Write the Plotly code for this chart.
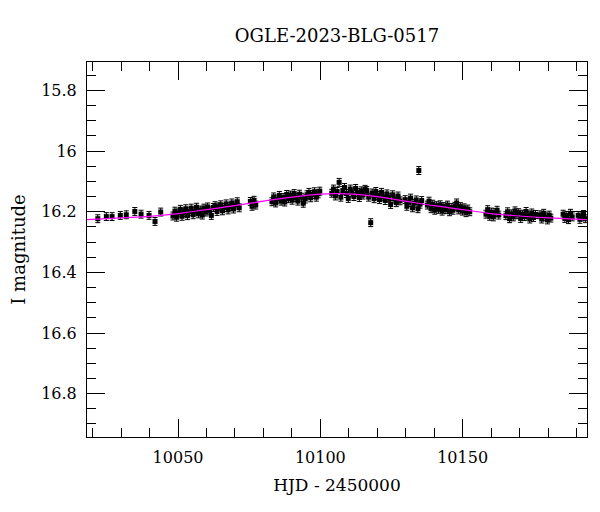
import plotly.graph_objects as go

# --- photometry (HJD - 2450000, I magnitude) ---
hjd_early = [10021.8, 10024.8, 10026.8, 10029.7, 10031.8, 10034.8, 10037.0, 10039.8, 10041.9, 10043.9]
mag_early = [16.223, 16.216, 16.216, 16.212, 16.210, 16.199, 16.208, 16.212, 16.232, 16.201]

hjd_a = [10048.2, 10048.9, 10049.5, 10050.1, 10050.8, 10051.4, 10052.0, 10052.7, 10053.3, 10054.0,
         10054.6, 10055.3, 10055.9, 10056.5, 10057.2, 10057.8, 10058.5, 10059.1, 10059.8, 10060.4,
         10061.1, 10061.7, 10062.4, 10063.0, 10063.7, 10064.3, 10065.0, 10065.6, 10066.3, 10066.9,
         10067.6, 10068.2, 10068.9, 10069.5, 10070.2, 10070.8, 10071.5]
mag_a = [16.214, 16.198, 16.218, 16.204, 16.192, 16.215, 16.203, 16.190, 16.213, 16.200,
         16.188, 16.210, 16.198, 16.185, 16.207, 16.194, 16.211, 16.188, 16.201, 16.184,
         16.197, 16.212, 16.186, 16.180, 16.199, 16.184, 16.177, 16.197, 16.186, 16.174,
         16.194, 16.182, 16.171, 16.191, 16.178, 16.167, 16.187]

hjd_b = [10075.4, 10076.0, 10076.7, 10077.3]
mag_b = [16.166, 16.182, 16.162, 16.178]

hjd_c = [10083.0, 10083.6, 10084.3, 10084.9, 10085.6, 10086.2, 10086.9, 10087.5, 10088.2, 10088.8,
         10089.5, 10090.1, 10090.8, 10091.4, 10092.1, 10092.7, 10093.4, 10094.0, 10094.7, 10095.3,
         10096.0, 10096.6, 10097.3, 10097.9, 10098.6, 10099.2, 10099.8]
mag_c = [16.167, 16.151, 16.171, 16.158, 16.146, 16.165, 16.153, 16.168, 16.143, 16.157,
         16.145, 16.162, 16.140, 16.153, 16.165, 16.142, 16.152, 16.172, 16.158, 16.144,
         16.136, 16.154, 16.143, 16.134, 16.152, 16.141, 16.132]

hjd_d = [10104.0, 10104.6, 10105.3, 10105.9, 10106.6, 10107.2, 10107.9, 10108.5, 10109.2, 10109.8,
         10110.5, 10111.1, 10111.8, 10112.4, 10113.1, 10113.7, 10114.4, 10115.0, 10115.7]
mag_d = [16.139, 16.125, 16.148, 16.133, 16.103, 16.152, 16.130, 16.120, 16.140, 16.156,
         16.125, 16.138, 16.150, 16.123, 16.136, 16.153, 16.131, 16.145, 16.126]

hjd_e = [10116.3, 10117.0, 10118.2, 10118.9, 10119.5, 10120.2, 10120.8, 10121.5, 10122.1, 10122.8,
         10123.4, 10124.1, 10124.7, 10125.4, 10126.0, 10126.7, 10127.3, 10128.0]
mag_e = [16.130, 16.152, 16.138, 16.157, 16.133, 16.146, 16.160, 16.136, 16.151, 16.163,
         16.141, 16.154, 16.176, 16.144, 16.158, 16.170, 16.148, 16.164]

hjd_f = [10129.8, 10130.4, 10131.1, 10131.7, 10132.4, 10133.0, 10133.7, 10134.3, 10135.0, 10135.6]
mag_f = [16.160, 16.182, 16.170, 16.155, 16.187, 16.172, 16.161, 16.190, 16.175, 16.163]

hjd_g = [10137.6, 10138.2, 10138.9, 10139.5, 10140.2, 10140.8, 10141.5, 10142.1, 10142.8, 10143.4,
         10144.1, 10144.7, 10145.4, 10146.0, 10146.6]
mag_g = [16.178, 16.165, 16.190, 16.175, 16.195, 16.180, 16.192, 16.177, 16.198, 16.183,
         16.193, 16.178, 16.200, 16.186, 16.195]

hjd_h = [10147.3, 10147.9, 10148.6, 10149.2, 10149.9, 10150.5, 10151.2, 10151.8, 10152.5]
mag_h = [16.182, 16.171, 16.194, 16.183, 16.198, 16.187, 16.203, 16.191, 16.200]

hjd_i = [10158.2, 10158.8, 10159.5, 10160.1, 10160.8, 10161.4, 10162.1, 10162.7]
mag_i = [16.208, 16.193, 16.215, 16.201, 16.217, 16.203, 16.195, 16.211]

hjd_j = [10165.2, 10165.8, 10166.5, 10167.1, 10167.8, 10168.4, 10169.1, 10169.7, 10170.4, 10171.0,
         10171.7, 10172.3, 10173.0, 10173.6, 10174.3, 10174.9, 10175.6]
mag_j = [16.213, 16.200, 16.223, 16.207, 16.217, 16.197, 16.210, 16.203, 16.222, 16.208,
         16.216, 16.199, 16.211, 16.224, 16.204, 16.219, 16.209]

hjd_k = [10177.2, 10177.8, 10178.5, 10179.1, 10179.8, 10180.4, 10181.0]
mag_k = [16.210, 16.224, 16.205, 16.217, 16.227, 16.211, 16.221]

hjd_l = [10185.3, 10185.9, 10186.6, 10187.2, 10187.9, 10188.5]
mag_l = [16.208, 16.222, 16.212, 16.226, 16.205, 16.217]

hjd_m = [10190.6, 10191.2, 10191.9, 10192.5, 10193.2]
mag_m = [16.212, 16.225, 16.217, 16.209, 16.223]

hjd_outliers = [10117.7, 10134.6]
mag_outliers = [16.236, 16.064]

mag_error = 0.013

# --- model light curve ---
model_hjd = [10018, 10030, 10040, 10050, 10060, 10070, 10080, 10090, 10100, 10105,
             10110, 10120, 10130, 10140, 10150, 10160, 10170, 10180, 10194]
model_mag = [16.226, 16.220, 16.215, 16.206, 16.193, 16.180, 16.165, 16.152, 16.142, 16.140,
             16.141, 16.150, 16.165, 16.180, 16.193, 16.206, 16.214, 16.220, 16.226]

x_ticks = [10050, 10100, 10150]
x_tick_text = ["10050", "10100", "10150"]
y_ticks = [15.8, 16.0, 16.2, 16.4, 16.6, 16.8]
y_tick_text = ["15.8", "16", "16.2", "16.4", "16.6", "16.8"]

hjd_all = (hjd_early + hjd_a + hjd_b + hjd_c + hjd_d + hjd_e + hjd_f + hjd_g + hjd_h +
           hjd_i + hjd_j + hjd_k + hjd_l + hjd_m + hjd_outliers)
mag_all = (mag_early + mag_a + mag_b + mag_c + mag_d + mag_e + mag_f + mag_g + mag_h +
           mag_i + mag_j + mag_k + mag_l + mag_m + mag_outliers)

FONT = "DejaVu Serif"

fig = go.Figure()
fig.add_trace(go.Scatter(
    x=hjd_all, y=mag_all, mode="markers",
    marker=dict(symbol="square", size=5, color="black"),
    error_y=dict(type="constant", value=mag_error, color="black", thickness=1, width=2.5),
    showlegend=False, hoverinfo="x+y"))
fig.add_trace(go.Scatter(
    x=model_hjd, y=model_mag, mode="lines",
    line=dict(color="#ff00ff", width=1.2, shape="spline"),
    showlegend=False))

axis_common = dict(
    showline=True, linecolor="black", linewidth=1, mirror="allticks",
    ticks="inside", ticklen=18, tickwidth=1, tickcolor="black",
    showgrid=False, zeroline=False, automargin=False, ticklabelstandoff=6,
    tickfont=dict(family=FONT, size=16, color="black"),
)

fig.update_xaxes(
    **axis_common, range=[10018, 10193.7], tickvals=x_ticks, ticktext=x_tick_text,
    minor=dict(ticks="inside", ticklen=9, dtick=10, tick0=10000, tickcolor="black", showgrid=False),
    title=dict(text="HJD - 2450000", font=dict(family=FONT, size=17, color="black"), standoff=12),
)
fig.update_yaxes(
    **axis_common, range=[16.943, 15.706], tickvals=y_ticks, ticktext=y_tick_text,
    minor=dict(ticks="inside", ticklen=9, dtick=0.05, tick0=15.7, tickcolor="black", showgrid=False),
    title=dict(text="I magnitude", font=dict(family=FONT, size=18, color="black"), standoff=12),
)

# the page adds an 8 px body margin, so the figure is 8 px smaller than the window
fig.update_layout(
    width=592, height=504,
    margin=dict(l=79, r=13, t=54, b=75),
    paper_bgcolor="white", plot_bgcolor="white",
    title=dict(text="OGLE-2023-BLG-0517", x=(337 - 8) / 592, xanchor="center", xref="container",
               y=1 - (36 - 8) / 504, yanchor="middle", yref="container",
               font=dict(family=FONT, size=18, color="black")),
)

fig.write_html("out.html")
